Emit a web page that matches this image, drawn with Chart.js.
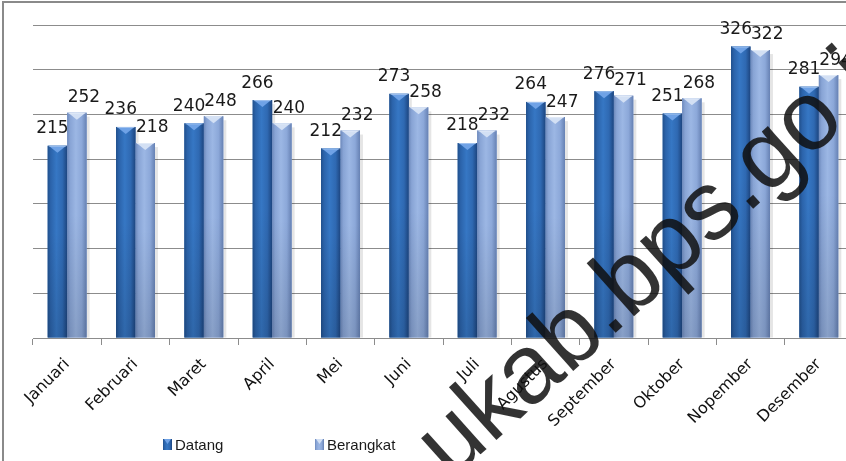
<!DOCTYPE html>
<html><head><meta charset="utf-8">
<script src="https://cdn.jsdelivr.net/npm/chart.js@4.4.1/dist/chart.umd.min.js"></script>
<style>
html,body{margin:0;padding:0;background:#fff;overflow:hidden;}
#wrap{position:relative;width:860px;height:461px;}
</style></head><body>
<div id="wrap"><canvas id="c"></canvas></div>
<script>
const categories = ['Januari','Februari','Maret','April','Mei','Juni','Juli','Agustus','September','Oktober','Nopember','Desember'];
const datang = [215,236,240,266,212,273,218,264,276,251,326,281];
const berangkat = [252,218,248,240,232,258,232,247,271,268,322,294];
const seriesNames = ['Datang','Berangkat'];
const yTicks = [0,50,100,150,200,250,300,350];
const watermarkText = 'ukab.bps.go.id';

const GRID = '#8c8c8c';
const palettes = [
  {stops:[[0,'#21508c'],[0.15,'#2b63aa'],[0.45,'#3677c4'],[0.75,'#2f69b2'],[1,'#1d457f']], cap:'#6fa2e6', mid:'#2f6ab4'},
  {stops:[[0,'#6d89bb'],[0.15,'#88a4d5'],[0.45,'#9cb7e4'],[0.75,'#8ca8d9'],[1,'#6681b3']], cap:'#d3e0f4', mid:'#8eaadb'}
];
const labelNudge = [{dx:-5, dy:-17}, {dx:7, dy:-15}];

function barBox(el){
  const p = el.getProps(['x','y','base','width'], true);
  return {x0:p.x-p.width/2, x1:p.x+p.width/2, xc:p.x, top:p.y, base:p.base, w:p.width};
}

const framePlugin = {
  id:'frame',
  beforeDraw(chart){
    const ctx = chart.ctx;
    ctx.save();
    ctx.fillStyle = '#fff';
    ctx.fillRect(0,0,chart.width,chart.height);
    ctx.strokeStyle = '#8a8a8a';
    ctx.lineWidth = 2;
    ctx.beginPath();
    ctx.moveTo(3, chart.height+2); ctx.lineTo(3, 2); ctx.lineTo(chart.width+2, 2);
    ctx.stroke();
    ctx.restore();
  }
};

const barPlugin = {
  id:'bar3d',
  beforeDatasetsDraw(chart){
    const ctx = chart.ctx;
    ctx.save();
    chart.data.datasets.forEach((ds, di) => {
      chart.getDatasetMeta(di).data.forEach(el => {
        const b = barBox(el);
        ctx.fillStyle = 'rgba(0,0,0,0.10)';
        ctx.fillRect(b.x1, b.top+4, 3, b.base-b.top-4);
      });
    });
    ctx.restore();
  },
  afterDatasetsDraw(chart){
    const ctx = chart.ctx;
    ctx.save();
    chart.data.datasets.forEach((ds, di) => {
      const pal = palettes[di];
      chart.getDatasetMeta(di).data.forEach(el => {
        const b = barBox(el);
        const g = ctx.createLinearGradient(b.x0,0,b.x1,0);
        pal.stops.forEach(s => g.addColorStop(s[0], s[1]));
        ctx.fillStyle = g;
        ctx.fillRect(b.x0, b.top, b.w, b.base-b.top);
        const v = ctx.createLinearGradient(0, b.top + (b.base-b.top)*0.45, 0, b.base);
        v.addColorStop(0,'rgba(0,0,0,0)');
        v.addColorStop(1,'rgba(0,0,0,0.13)');
        ctx.fillStyle = v;
        ctx.fillRect(b.x0, b.top, b.w, b.base-b.top);
        ctx.fillStyle = pal.cap;
        ctx.beginPath();
        ctx.moveTo(b.x0+1, b.top);
        ctx.lineTo(b.x1-1, b.top);
        ctx.lineTo(b.xc, b.top+7);
        ctx.closePath();
        ctx.fill();
        ctx.fillStyle = 'rgba(255,255,255,0.35)';
        ctx.fillRect(b.x0+1, b.top, b.w-2, 1);
      });
    });
    ctx.font = '17px "DejaVu Sans"';
    ctx.fillStyle = '#1a1a1a';
    ctx.textAlign = 'center';
    ctx.textBaseline = 'middle';
    chart.data.datasets.forEach((ds, di) => {
      const n = labelNudge[di];
      chart.getDatasetMeta(di).data.forEach((el, i) => {
        const b = barBox(el);
        ctx.fillText(String(ds.data[i]), b.xc + n.dx, b.top + n.dy);
      });
    });
    ctx.restore();
  },
  afterDraw(chart){
    const ctx = chart.ctx;
    ctx.save();
    const items = [{x:163, name:seriesNames[0], di:0},{x:315, name:seriesNames[1], di:1}];
    ctx.font = '15px "Liberation Sans"';
    ctx.textBaseline = 'alphabetic';
    ctx.textAlign = 'left';
    items.forEach(it => {
      const pal = palettes[it.di];
      const g = ctx.createLinearGradient(it.x,0,it.x+9,0);
      pal.stops.forEach(s => g.addColorStop(s[0], s[1]));
      ctx.fillStyle = g;
      ctx.fillRect(it.x, 439, 9, 11);
      ctx.fillStyle = pal.cap;
      ctx.beginPath(); ctx.moveTo(it.x+1,439); ctx.lineTo(it.x+8,439); ctx.lineTo(it.x+4.5,444); ctx.closePath(); ctx.fill();
      ctx.fillStyle = '#1a1a1a';
      ctx.fillText(it.name, it.x+12, 450);
    });
    ctx.translate(451, 481);
    ctx.rotate(-42*Math.PI/180);
    ctx.font = '98px "Liberation Sans"';
    ctx.fillStyle = 'rgba(15,15,15,0.85)';
    ctx.fillText(watermarkText, 0, 0);
    ctx.restore();
  }
};

new Chart(document.getElementById('c'), {
  type:'bar',
  data:{
    labels:categories,
    datasets:[
      {label:seriesNames[0], data:datang, backgroundColor:palettes[0].mid, borderWidth:0},
      {label:seriesNames[1], data:berangkat, backgroundColor:palettes[1].mid, borderWidth:0}
    ]
  },
  options:{
    responsive:true, maintainAspectRatio:false, animation:false,
    layout:{padding:{left:33, right:7, top:25, bottom:0}},
    datasets:{bar:{categoryPercentage:0.57, barPercentage:1}},
    plugins:{legend:{display:false}, tooltip:{enabled:false}},
    scales:{
      x:{
        grid:{display:true, drawOnChartArea:false, drawTicks:true, tickLength:7, color:GRID, offset:true},
        border:{display:true, color:GRID, width:1},
        ticks:{font:{family:'DejaVu Sans', size:16}, color:'#111', minRotation:45, maxRotation:45, autoSkip:false, padding:10},
        afterFit(s){ s.height = 123; }
      },
      y:{
        min:yTicks[0], max:yTicks[yTicks.length-1],
        afterBuildTicks(s){ s.ticks = yTicks.map(v => ({value:v})); },
        grid:{color:GRID, lineWidth:1, drawTicks:false},
        border:{display:false},
        ticks:{display:false},
        afterFit(s){ s.width = 0; }
      }
    }
  },
  plugins:[framePlugin, barPlugin]
});
</script>
</body></html>
